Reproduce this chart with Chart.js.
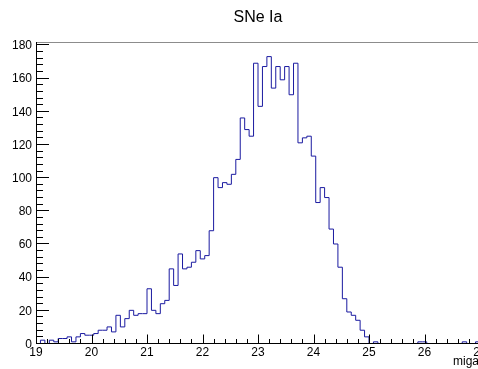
<!DOCTYPE html>
<html>
<head>
<meta charset="utf-8">
<script src="https://cdn.jsdelivr.net/npm/chart.js@4.4.0/dist/chart.umd.min.js"></script>
<style>
html, body { margin: 0; padding: 0; background: #fff; overflow: hidden; width: 478px; height: 369px; }
#wrap { position: relative; width: 490px; height: 369px; }
</style>
</head>
<body>
<div id="wrap"><canvas id="histo" width="490" height="369"></canvas></div>
<script>
const chartTitle = "SNe Ia";
const xTitle = "miga";

// histogram range (100 bins)
const xMin = 19;
const xMax = 27;
const yMax = 181.8;

// bin contents
const counts = [
    0, 2, 0, 2, 1, 3, 3, 4, 1, 4, 6, 5, 5,
    6, 8, 8, 10, 7, 17, 10, 15, 20, 17, 18, 18,
    33, 20, 18, 24, 26, 45, 35, 54, 45, 46, 49, 56, 51, 53,
    68, 100, 94, 97, 96, 102, 111, 136, 129, 125, 169, 143,
    167, 173, 154, 167, 159, 167, 150, 169, 121, 124, 125, 113,
    85, 94, 88, 69, 60, 46, 27, 19, 17, 14, 8, 4, 0, 1,
    0, 0, 0, 0, 0, 0, 0, 0, 0, 1, 1, 0, 0, 0, 0, 0, 0, 0, 0, 1, 0, 0, 1
];

const xTickLabels = [19, 20, 21, 22, 23, 24, 25, 26, 27];
const yTickLabels = [0, 20, 40, 60, 80, 100, 120, 140, 160, 180];

// build the outline points (left edge of every bin + closing edge)
const binWidth = (xMax - xMin) / counts.length;
const outline = [{x: xMin, y: 0}];
counts.forEach((c, i) => {
    outline.push({x: xMin + i * binWidth, y: c});
});
outline.push({x: xMax, y: counts[counts.length - 1]});
outline.push({x: xMax, y: 0});

const FONT = '"Liberation Sans", Arial, sans-serif';

// axes, ticks and labels drawn the ROOT way (ticks inside the frame)
const rootFrame = {
    id: 'rootFrame',
    afterDraw(chart) {
        const ctx = chart.ctx;
        const xs = chart.scales.x;
        const ys = chart.scales.y;
        const area = chart.chartArea;
        const y0 = Math.floor(area.bottom) + 0.5;
        ctx.save();

        // top frame line
        ctx.strokeStyle = '#8c8c8c';
        ctx.lineWidth = 1;
        ctx.beginPath();
        ctx.moveTo(area.left, area.top + 0.5);
        ctx.lineTo(area.right, area.top + 0.5);
        ctx.stroke();

        // axis lines
        ctx.strokeStyle = '#000';
        ctx.beginPath();
        ctx.moveTo(area.left + 0.5, area.top);
        ctx.lineTo(area.left + 0.5, y0);
        ctx.lineTo(area.right, y0);
        ctx.stroke();

        // y ticks
        ctx.beginPath();
        for (let v = 0; v <= yMax; v += 4) {
            const y = Math.floor(ys.getPixelForValue(v)) + 0.5;
            const len = v % 20 === 0 ? 13 : 7;
            ctx.moveTo(area.left, y);
            ctx.lineTo(area.left + len, y);
        }
        // x ticks
        for (let k = 0; k <= 40; k++) {
            const v = xMin + k * 0.2;
            const x = Math.round(xs.getPixelForValue(v)) + 0.5;
            const len = k % 5 === 0 ? 9 : 4.5;
            ctx.moveTo(x, y0);
            ctx.lineTo(x, y0 - len);
        }
        ctx.stroke();

        // tick labels
        ctx.fillStyle = '#000';
        ctx.font = '12px ' + FONT;
        ctx.textAlign = 'right';
        ctx.textBaseline = 'middle';
        yTickLabels.forEach(v => {
            ctx.fillText(String(v), area.left - 4, ys.getPixelForValue(v) + 1);
        });
        ctx.textAlign = 'center';
        ctx.textBaseline = 'top';
        xTickLabels.forEach(v => {
            ctx.fillText(String(v), xs.getPixelForValue(v), y0 + 3.5);
        });

        // axis title
        ctx.textAlign = 'right';
        ctx.textBaseline = 'alphabetic';
        ctx.fillText(xTitle, 479, 365);

        // title
        ctx.font = '16px ' + FONT;
        ctx.textAlign = 'center';
        ctx.textBaseline = 'middle';
        ctx.fillText(chartTitle, (area.left + area.right) / 2, 18);

        ctx.restore();
    }
};

const chart = new Chart(document.getElementById('histo').getContext('2d'), {
    type: 'line',
    data: {
        datasets: [{
            data: outline,
            stepped: true,
            borderColor: '#1a1aa0',
            borderWidth: 1,
            pointRadius: 0,
            fill: false
        }]
    },
    options: {
        responsive: false,
        animation: false,
        layout: { padding: { left: 36, right: 10, top: 42, bottom: 25.5 } },
        plugins: { legend: { display: false }, tooltip: { enabled: false } },
        scales: {
            x: { type: 'linear', min: xMin, max: xMax, display: false },
            y: { min: 0, max: yMax, display: false }
        }
    },
    plugins: [rootFrame]
});
</script>
</body>
</html>
